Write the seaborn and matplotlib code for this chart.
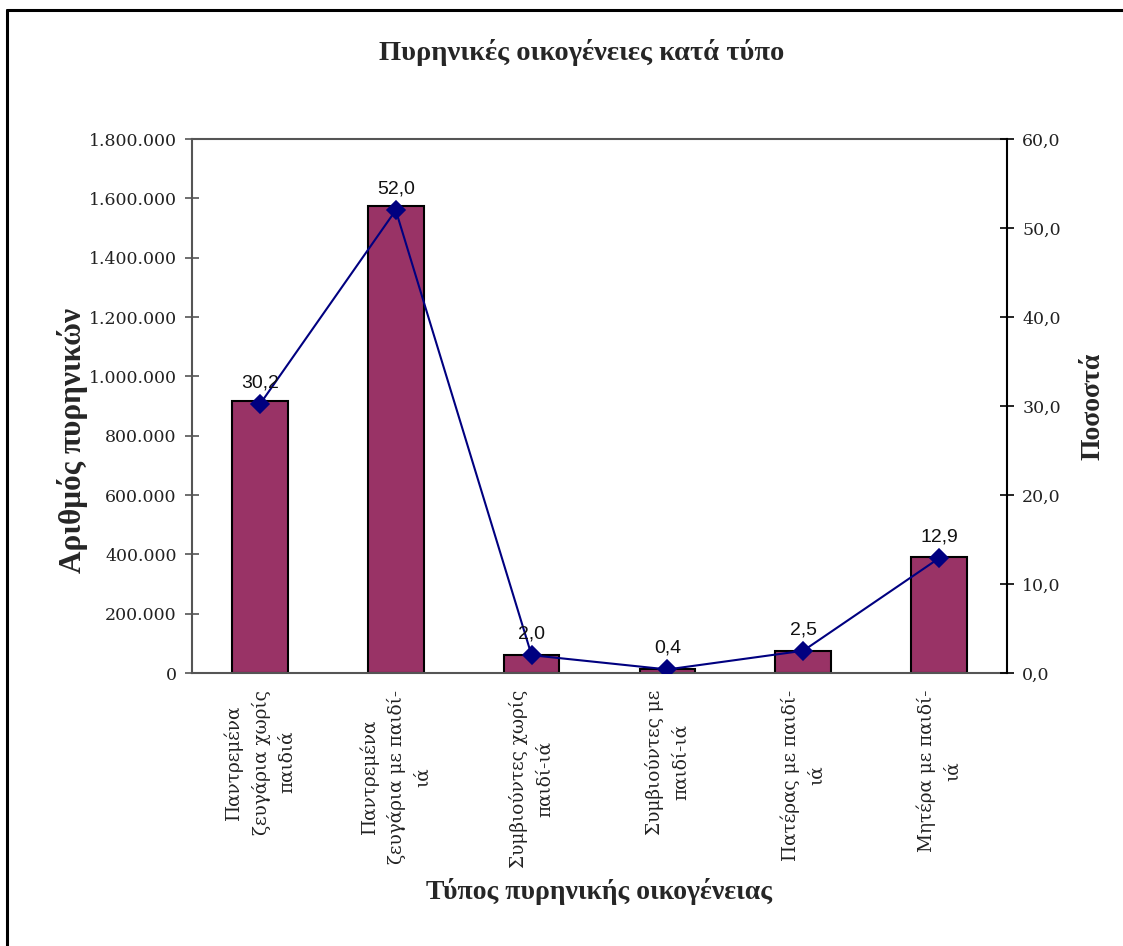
import matplotlib
matplotlib.use("Agg")
import matplotlib.pyplot as plt
from matplotlib.ticker import FuncFormatter, FixedLocator
from matplotlib.lines import Line2D
import seaborn as sns
import pandas as pd
import numpy as np

categories = [
    "Παντρεμένα\nζευγάρια χωρίς\nπαιδιά",
    "Παντρεμένα\nζευγάρια με παιδί-\nιά",
    "Συμβιούντες χωρίς\nπαιδί-ιά",
    "Συμβιούντες με\nπαιδί-ιά",
    "Πατέρας με παιδί-\nιά",
    "Μητέρα με παιδί-\nιά",
]
counts = [917000, 1574000, 61000, 12000, 75000, 391000]
percents = [30.2, 52.0, 2.0, 0.4, 2.5, 12.9]
left_ticks = [0, 200000, 400000, 600000, 800000, 1000000, 1200000, 1400000, 1600000, 1800000]
right_ticks = [0, 10, 20, 30, 40, 50, 60]

title = "Πυρηνικές οικογένειες κατά τύπο"
xlabel = "Τύπος πυρηνικής οικογένειας"
ylabel = "Αριθμός πυρηνικών"
y2label = "Ποσοστά"

sns.set_theme(style="white")
plt.rcParams['font.family'] = ['DejaVu Serif']

df = pd.DataFrame({"cat": categories, "count": counts, "pct": percents})

fig = plt.figure(figsize=(11.23, 9.46), dpi=100)
ax = fig.add_axes([192/1123, 1-673/946, (1007-192)/1123, (673-139)/946])

sns.barplot(data=df, x="cat", y="count", ax=ax, color="#993366", width=0.41,
            edgecolor="black", linewidth=1.5, saturation=1)

ax2 = ax.twinx()
sns.pointplot(data=df, x="cat", y="pct", ax=ax2, color="#000080", markers="D",
              linestyles="-", errorbar=None, markersize=9, linewidth=1.5)

for i, v in enumerate(percents):
    ax2.annotate(f"{v:.1f}".replace(".", ","), (i, v), xytext=(0, 9),
                 textcoords="offset points", ha="center", va="bottom",
                 fontsize=14, family="Liberation Sans", color="#111111")

ax.set_xlim(-0.5, 5.5)
ax.set_ylim(0, 1800000)
ax2.set_ylim(0, 60)

ax.yaxis.set_major_locator(FixedLocator(left_ticks))
ax.yaxis.set_major_formatter(FuncFormatter(lambda v, p: f"{v:,.0f}".replace(",", ".")))
ax2.yaxis.set_major_locator(FixedLocator(right_ticks))
ax2.yaxis.set_major_formatter(FuncFormatter(lambda v, p: f"{v:.1f}".replace(".", ",")))

ax.set_xticks(range(len(categories)))
ax.set_xticklabels(categories, rotation=90, fontsize=13.3, multialignment="center",
                   color="#222222", linespacing=1.55)
ax.set_xticks(np.arange(-0.5, 6.0, 1.0), minor=True)
ax.tick_params(axis="x", which="major", length=0, pad=12)
ax.tick_params(axis="x", which="minor", length=10, direction="inout", width=1.2, color="#555555")
ax.tick_params(axis="y", which="major", length=10, direction="inout", width=1.2,
               color="#555555", labelsize=12.5, labelcolor="#222222", pad=6, left=True)
ax2.tick_params(axis="y", which="major", length=10, direction="inout", width=1.2,
                color="black", labelsize=12.5, labelcolor="#222222", pad=6, right=True)
ax2.tick_params(axis="x", length=0)

for s in ["left", "top", "bottom"]:
    ax.spines[s].set_color("#555555")
    ax.spines[s].set_linewidth(1.5)
    ax.spines[s].set_visible(True)
ax.spines["right"].set_visible(False)
for s in ["left", "top", "bottom"]:
    ax2.spines[s].set_visible(False)
ax2.spines["right"].set_visible(True)
ax2.spines["right"].set_color("black")
ax2.spines["right"].set_linewidth(1.5)

ax.set_xlabel(xlabel, fontsize=20, fontweight="bold", family="Liberation Serif")
ax.xaxis.set_label_coords(0.5, -0.384)
ax.set_ylabel(ylabel, fontsize=22.5, fontweight="bold", family="Liberation Serif")
ax.yaxis.set_label_coords(-0.1276, 0.436)
ax2.set_ylabel(y2label, fontsize=20, fontweight="bold", family="Liberation Serif", rotation=90)
ax2.yaxis.set_label_coords(1.0896, 0.5)

fig.text(582/1123, 1-52/946, title, ha="center", va="center", fontsize=20.5,
         fontweight="bold", family="Liberation Serif")

fig.add_artist(Line2D([7/1123, 7/1123], [0, 1-10/946], color="black", lw=2.2,
                      transform=fig.transFigure))
fig.add_artist(Line2D([7/1123, 1], [1-10/946, 1-10/946], color="black", lw=2.2,
                      transform=fig.transFigure))

fig.savefig("out.png", dpi=100, facecolor="white")
